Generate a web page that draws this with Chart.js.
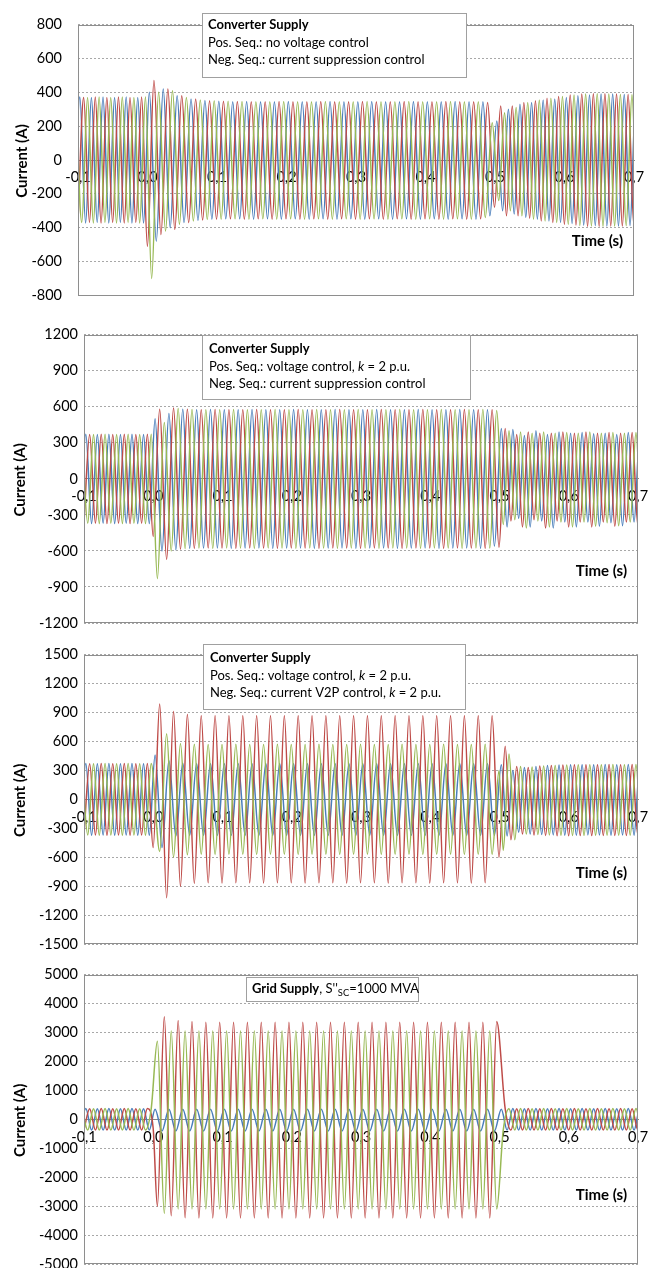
<!DOCTYPE html>
<html>
<head>
<meta charset="utf-8">
<script src="https://cdn.jsdelivr.net/npm/chart.js@4.4.1/dist/chart.umd.min.js"></script>
<style>
  html, body { margin: 0; padding: 0; background: #fff; width: 662px; height: 1268px; overflow: hidden; }
  canvas { position: absolute; left: 0; }
</style>
</head>
<body>
<canvas id="c1" width="662" height="320" style="top:0"></canvas>
<canvas id="c2" width="662" height="320" style="top:320px"></canvas>
<canvas id="c3" width="662" height="320" style="top:640px"></canvas>
<canvas id="c4" width="662" height="330" style="top:960px"></canvas>
<script>
// time axis
const xTickValues = [-0.1, 0, 0.1, 0.2, 0.3, 0.4, 0.5, 0.6, 0.7];
const xTickLabels = ['-0,1', '0,0', '0,1', '0,2', '0,3', '0,4', '0,5', '0,6', '0,7'];

// current axes (A)
const c1YTicks = [-800, -600, -400, -200, 0, 200, 400, 600, 800];
const c2YTicks = [-1200, -900, -600, -300, 0, 300, 600, 900, 1200];
const c3YTicks = [-1500, -1200, -900, -600, -300, 0, 300, 600, 900, 1200, 1500];
const c4YTicks = [-5000, -4000, -3000, -2000, -1000, 0, 1000, 2000, 3000, 4000, 5000];

// Peak values of each phase current, one per half cycle.
// Each series is [before fault, during fault (0.0 - 0.5 s), after fault].
// Slots say on which of every three sixth-period steps the phase has its peaks.

// 1: converter, no voltage control, current suppression
const c1Blue = [
  [-370, 372, -372, 370, -370, 372, -372, 370, -370, 372, -372, 370, -372],
  [400, -480, 420, -400, 380, -370, 360, -358, 352, -350,
   348, -348, 345, -348, 346, -350, 344, -348, 345, -350,
   346, -348, 344, -350, 345, -348, 346, -350, 344, -348,
   345, -350, 346, -348, 344, -350, 345, -348, 346, -350,
   344, -348, 345, -350, 346, -348, 344, -350, 345, -330,
   230],
  [-300, 300, -320, 330, -340, 340, -350, 355, -360, 360, -370, 370, -375,
   380, -385, 385, -388, 390, -390, 390, -390, 388, -388, 385, -385, 385]
];
const c1Red = [
  [-372, 370, -370, 372, -372, 370, -370, 372, -372, 370, -370, 372, -510],
  [470, -440, 420, -410, 380, -370, 360, -355, 350, -350,
   348, -348, 346, -350, 345, -348, 344, -350, 346, -348,
   345, -350, 344, -348, 346, -350, 345, -348, 344, -350,
   346, -348, 345, -350, 344, -348, 346, -350, 345, -348,
   344, -350, 346, -348, 345, -350, 344, -348, 340, -280],
  [320, -330, 320, -330, 340, -345, 350, -360, 365, -370, 375, -380, 385,
   -385, 390, -392, 392, -392, 392, -390, 390, -390, 388, -388, 386, -386]
];
const c1Green = [
  [372, -370, 370, -372, 372, -370, 370, -372, 372, -370, 370, -372, 372],
  [-700, 400, -420, 410, -380, 370, -360, 355, -352, 350,
   -350, 348, -348, 346, -350, 345, -348, 344, -350, 346,
   -348, 345, -350, 344, -348, 346, -350, 345, -348, 344,
   -350, 346, -348, 345, -350, 344, -348, 346, -350, 345,
   -348, 344, -350, 346, -348, 345, -350, 344, -340, 220],
  [-240, 280, -300, 310, -330, 340, -350, 355, -360, 365, -370, 375, -380,
   385, -388, 390, -390, 392, -392, 390, -390, 388, -388, 386, -386, 385]
];
const c1Slots = { blue: [0, 0, 0], red: [2, 2, 2], green: [1, 1, 1] };

// 2: converter, voltage control k = 2, current suppression
const c2Blue = [
  [-370, 372, -372, 370, -370, 372, -372, 370, -370, 372, -372, 370, -372],
  [500, -600, 545, -590, 580, -578, 575, -576, 578, -575,
   576, -578, 575, -576, 578, -575, 576, -578, 575, -576,
   578, -575, 576, -578, 575, -576, 578, -575, 576, -578,
   575, -576, 578, -575, 576, -578, 575, -576, 578, -575,
   576, -578, 575, -576, 578, -575, 576, -578, 575, -560,
   420],
  [-400, 410, -330, 360, -400, 400, -350, 370, -410, 390, -360, 380, -400,
   385, -360, 375, -395, 380, -365, 370, -390, 385, -360, 375, -395, 380]
];
const c2Red = [
  [-372, 370, -370, 372, -372, 370, -370, 372, -372, 370, -370, 372, -480],
  [580, -670, 590, -585, 580, -578, 576, -575, 578, -576,
   575, -578, 576, -575, 578, -576, 575, -578, 576, -575,
   578, -576, 575, -578, 576, -575, 578, -576, 575, -578,
   576, -575, 578, -576, 575, -578, 576, -575, 578, -576,
   575, -578, 576, -575, 578, -576, 575, -578, 576, -570],
  [420, -350, 370, -400, 390, -340, 380, -410, 380, -350, 390, -400, 380,
   -360, 390, -400, 380, -360, 385, -395, 380, -360, 385, -390, 380, -365]
];
const c2Green = [
  [372, -370, 370, -372, 372, -370, 370, -372, 372, -370, 370, -372, 372],
  [-830, 470, -600, 585, -580, 578, -576, 575, -578, 576,
   -575, 578, -576, 575, -578, 576, -575, 578, -576, 575,
   -578, 576, -575, 578, -576, 575, -578, 576, -575, 578,
   -576, 575, -578, 576, -575, 578, -576, 575, -578, 576,
   -575, 578, -576, 575, -578, 576, -575, 578, -576, 570],
  [-380, 400, -340, 390, -410, 380, -350, 390, -400, 380, -360, 385, -400,
   380, -360, 390, -395, 380, -365, 385, -390, 380, -360, 385, -390, 380]
];
const c2Slots = { blue: [0, 0, 0], red: [2, 2, 2], green: [1, 1, 1] };

// 3: converter, voltage control k = 2, current V2P k = 2
const c3Blue = [
  [-370, 372, -372, 370, -370, 372, -372, 370, -370, 372, -372, 370, -372],
  [460, -500, 400, -380, 375, -372, 370, -372, 370, -372,
   370, -372, 370, -372, 370, -372, 370, -372, 370, -372,
   370, -372, 370, -372, 370, -372, 370, -372, 370, -372,
   370, -372, 370, -372, 370, -372, 370, -372, 370, -372,
   370, -372, 370, -372, 370, -372, 370, -372, 370, -372,
   360],
  [-380, 300, -340, 330, -360, 340, -365, 350, -370, 355, -372, 358, -372,
   360, -370, 360, -370, 362, -372, 360, -370, 362, -372, 360, -370, 362]
];
const c3Red = [
  [-372, 370, -370, 372, -372, 370, -370, 372, -372, 370, -370, 372, -500],
  [990, -1020, 910, -900, 880, -870, 868, -866, 866, -868,
   866, -866, 868, -866, 866, -868, 866, -866, 868, -866,
   866, -868, 866, -866, 868, -866, 866, -868, 866, -866,
   868, -866, 866, -868, 866, -866, 868, -866, 866, -868,
   866, -866, 868, -866, 866, -868, 866, -866, 868, -600],
  [550, -420, 340, -360, 330, -370, 345, -375, 350, -378, 355, -378, 358,
   -376, 360, -376, 360, -374, 362, -374, 360, -374, 362, -374, 360, -374]
];
const c3Green = [
  [372, -370, 370, -372, 372, -370, 370, -372, 372, -370, 370, -372, 372],
  [-540, 680, -600, 580, -575, 572, -570, 570, -572, 570,
   -570, 572, -570, 570, -572, 570, -570, 572, -570, 570,
   -572, 570, -570, 572, -570, 570, -572, 570, -570, 572,
   -570, 570, -572, 570, -570, 572, -570, 570, -572, 570,
   -570, 572, -570, 570, -572, 570, -570, 572, -570, 300],
  [-530, 470, -420, 340, -360, 335, -365, 345, -370, 350, -372, 355, -374,
   358, -374, 360, -372, 360, -372, 362, -372, 360, -372, 362, -372, 360]
];
const c3Slots = { blue: [0, 0, 0], red: [2, 2, 2], green: [1, 2, 1] };

// 4: grid supply, S''sc = 1000 MVA
const c4Blue = [
  [-370, 372, -372, 370, -370, 372, -372, 370, -370, 372, -372, 370, -372],
  [350, -400, 350, -400, 350, -400, 350, -400, 350, -400,
   350, -400, 350, -400, 350, -400, 350, -400, 350, -400,
   350, -400, 350, -400, 350, -400, 350, -400, 350, -400,
   350, -400, 350, -400, 350, -400, 350, -400, 350, -400,
   350, -400, 350, -400, 350, -400, 350, -400, 350, -400,
   350],
  [-370, 372, -372, 370, -370, 372, -372, 370, -370, 372, -372, 370, -370,
   372, -372, 370, -370, 372, -372, 370, -370, 372, -372, 370, -370, 372]
];
const c4Red = [
  [-372, 370, -370, 372, -372, 370, -370, 372, -372, 370, -370, 372, -300],
  [-3000, 3550, -3330, 3420, -3400, 3380, -3410, 3360, -3410, 3360,
   -3410, 3360, -3410, 3360, -3410, 3360, -3410, 3360, -3410, 3360,
   -3410, 3360, -3410, 3360, -3410, 3360, -3410, 3360, -3410, 3360,
   -3410, 3360, -3410, 3360, -3410, 3360, -3410, 3360, -3410, 3360,
   -3410, 3360, -3410, 3360, -3410, 3360, -3410, 3360, -3410, 3380],
  [372, -370, 370, -372, 372, -370, 370, -372, 372, -370, 370, -372, 372,
   -370, 370, -372, 372, -370, 370, -372, 372, -370, 370, -372, 372, -370]
];
const c4Green = [
  [372, -370, 370, -372, 372, -370, 370, -372, 372, -370, 370, -372, 372],
  [2700, -3250, 3050, -3100, 3050, -3100, 3050, -3100, 3050, -3100,
   3050, -3100, 3050, -3100, 3050, -3100, 3050, -3100, 3050, -3100,
   3050, -3100, 3050, -3100, 3050, -3100, 3050, -3100, 3050, -3100,
   3050, -3100, 3050, -3100, 3050, -3100, 3050, -3100, 3050, -3100,
   3050, -3100, 3050, -3100, 3050, -3100, 3050, -3100, 3050, -3100],
  [-372, 370, -370, 372, -372, 370, -370, 372, -372, 370, -370, 372, -372,
   370, -370, 372, -372, 370, -370, 372, -372, 370, -370, 372, -372, 370]
];
const c4Slots = { blue: [0, 0, 0], red: [2, 1, 2], green: [1, 1, 1] };

// sixth-period time steps (the plotted waves run with a longer period during the fault)
const gridStart = -0.1057;
const gridEnd = 0.72;
const stepNormal = 1 / 360;
const stepFault = 1 / 300;
const faultStart = 0.0;
const faultEnd = 0.5;

const grid = [];
for (let t = gridStart; t <= gridEnd; t += (t >= faultStart && t < faultEnd) ? stepFault : stepNormal) {
  grid.push(t);
}
function partOf(i) {
  if (grid[i] < faultStart) return 0;
  return grid[i - 1] < faultEnd ? 1 : 2;
}
function wave(values, slots) {
  const pts = [];
  const used = [0, 0, 0];
  grid.forEach((t, i) => {
    const p = partOf(i);
    if (i % 3 !== slots[p]) return;
    const v = values[p][used[p]++];
    if (v !== undefined) pts.push({ x: t, y: v });
  });
  return pts;
}

const BLUE = '#4A7EBB', RED = '#BE4B48', GREEN = '#98B954';
const FONT = 'Lato';

function runs(ctx, parts, x, y, size) {
  parts.forEach(([text, style]) => {
    const sub = style.includes('s');
    const fs = sub ? size * 0.72 : size;
    ctx.font = (style.includes('i') ? 'italic ' : '') + (style.includes('b') ? 'bold ' : '') + fs + 'px ' + FONT;
    ctx.fillText(text, x, sub ? y + size * 0.28 : y);
    x += ctx.measureText(text).width;
  });
}

const decor = {
  id: 'decor',
  afterDatasetsDraw(chart, args, o) {
    const { ctx, chartArea: a } = chart;
    ctx.save();
    // plot frame
    ctx.strokeStyle = '#8e8e8e';
    ctx.lineWidth = 1;
    ctx.strokeRect(Math.round(a.left) + 0.5, Math.round(a.top) + 0.5,
      Math.round(a.width) - 1, Math.round(a.height) - 1);
    // text box
    const b = o.box;
    ctx.fillStyle = '#fff';
    ctx.fillRect(b.x, b.y, b.w, b.h);
    ctx.strokeStyle = '#a0a0a0';
    ctx.strokeRect(b.x + 0.5, b.y + 0.5, b.w, b.h);
    ctx.fillStyle = '#000';
    ctx.textBaseline = 'middle';
    ctx.textAlign = 'left';
    b.lines.forEach((line, k) => runs(ctx, line, b.x + b.tx, b.y + b.ty + k * 17.5, 13));
    // axis titles
    ctx.font = 'bold 15px ' + FONT;
    ctx.textAlign = 'right';
    ctx.fillText('Time (s)', a.right - 11, a.bottom - o.timeUp);
    ctx.translate(o.titleX, (a.top + a.bottom) / 2 + 1);
    ctx.rotate(-Math.PI / 2);
    ctx.textAlign = 'center';
    ctx.fillText('Current (A)', 0, 0);
    ctx.restore();
  }
};

function makeChart(id, yTicks, blue, red, green, slots, layout, deco) {
  const line = (data, color) => ({
    data, borderColor: color, borderWidth: 1.5, pointRadius: 0,
    cubicInterpolationMode: 'monotone', fill: false
  });
  new Chart(document.getElementById(id), {
    type: 'line',
    data: {
      datasets: [
        line(wave(green, slots.green), GREEN),
        line(wave(red, slots.red), RED),
        line(wave(blue, slots.blue), BLUE)
      ]
    },
    options: {
      responsive: false,
      animation: false,
      events: [],
      layout: { padding: layout.padding },
      plugins: { legend: { display: false }, tooltip: { enabled: false }, decor: deco },
      scales: {
        x: {
          type: 'linear',
          position: { y: 0 },
          min: xTickValues[0],
          max: xTickValues[xTickValues.length - 1],
          afterBuildTicks: s => { s.ticks = xTickValues.map(v => ({ value: v })); },
          grid: { display: false, drawTicks: false },
          border: { display: true, color: '#868686', width: 1 },
          ticks: {
            padding: 9, color: '#000', font: { family: FONT, size: 14.5 },
            maxRotation: 0, autoSkip: false,
            callback: (v, i) => xTickLabels[i]
          }
        },
        y: {
          min: yTicks[0],
          max: yTicks[yTicks.length - 1],
          afterBuildTicks: s => { s.ticks = yTicks.map(v => ({ value: v })); },
          afterFit: s => { s.width = layout.axisWidth; },
          grid: {
            drawTicks: false,
            color: c => (c.tick && c.tick.value === 0) ? 'rgba(0,0,0,0)' : '#a8a8a8'
          },
          border: { display: false, dash: [2, 2] },
          ticks: {
            padding: layout.tickPad, color: '#000', font: { family: FONT, size: 14.5 },
            callback: v => String(v)
          }
        }
      }
    },
    plugins: [decor]
  });
}

function draw() {
  Chart.defaults.font.family = FONT;
  makeChart('c1', c1YTicks, c1Blue, c1Red, c1Green, c1Slots,
    { padding: { top: 9, right: 28, bottom: 18, left: 0 }, axisWidth: 78, tickPad: 16 },
    {
      box: {
        x: 202, y: 13, w: 264, h: 64, tx: 6, ty: 12,
        lines: [
          [['Converter Supply', 'b']],
          [['Pos. Seq.: no voltage control', '']],
          [['Neg. Seq.: current suppression control', '']]
        ]
      },
      timeUp: 54, titleX: 22
    });
  makeChart('c2', c2YTicks, c2Blue, c2Red, c2Green, c2Slots,
    { padding: { top: 13, right: 24, bottom: 17, left: 0 }, axisWidth: 84, tickPad: 6 },
    {
      box: {
        x: 202, y: 15, w: 268, h: 64, tx: 7, ty: 14,
        lines: [
          [['Converter Supply', 'b']],
          [['Pos. Seq.: voltage control, ', ''], ['k', 'i'], [' = 2 p.u.', '']],
          [['Neg. Seq.: current suppression control', '']]
        ]
      },
      timeUp: 52, titleX: 20
    });
  makeChart('c3', c3YTicks, c3Blue, c3Red, c3Green, c3Slots,
    { padding: { top: 13, right: 24, bottom: 16, left: 0 }, axisWidth: 84, tickPad: 6 },
    {
      box: {
        x: 203, y: 4, w: 262, h: 65, tx: 7, ty: 14,
        lines: [
          [['Converter Supply', 'b']],
          [['Pos. Seq.: voltage control, ', ''], ['k', 'i'], [' = 2 p.u.', '']],
          [['Neg. Seq.: current V2P control, ', ''], ['k', 'i'], [' = 2 p.u.', '']]
        ]
      },
      timeUp: 71, titleX: 20
    });
  makeChart('c4', c4YTicks, c4Blue, c4Red, c4Green, c4Slots,
    { padding: { top: 14, right: 24, bottom: 26, left: 0 }, axisWidth: 84, tickPad: 6 },
    {
      box: {
        x: 246, y: 17, w: 172, h: 24, tx: 6, ty: 12,
        lines: [
          [['Grid Supply', 'b'], [', S\'\'', ''], ['SC', 's'], ['=1000 MVA', '']]
        ]
      },
      timeUp: 69, titleX: 20
    });
}

Promise.all([
  document.fonts.load('14px Lato'),
  document.fonts.load('bold 14px Lato'),
  document.fonts.load('italic 14px Lato')
]).catch(() => {}).then(draw);
</script>
</body>
</html>
